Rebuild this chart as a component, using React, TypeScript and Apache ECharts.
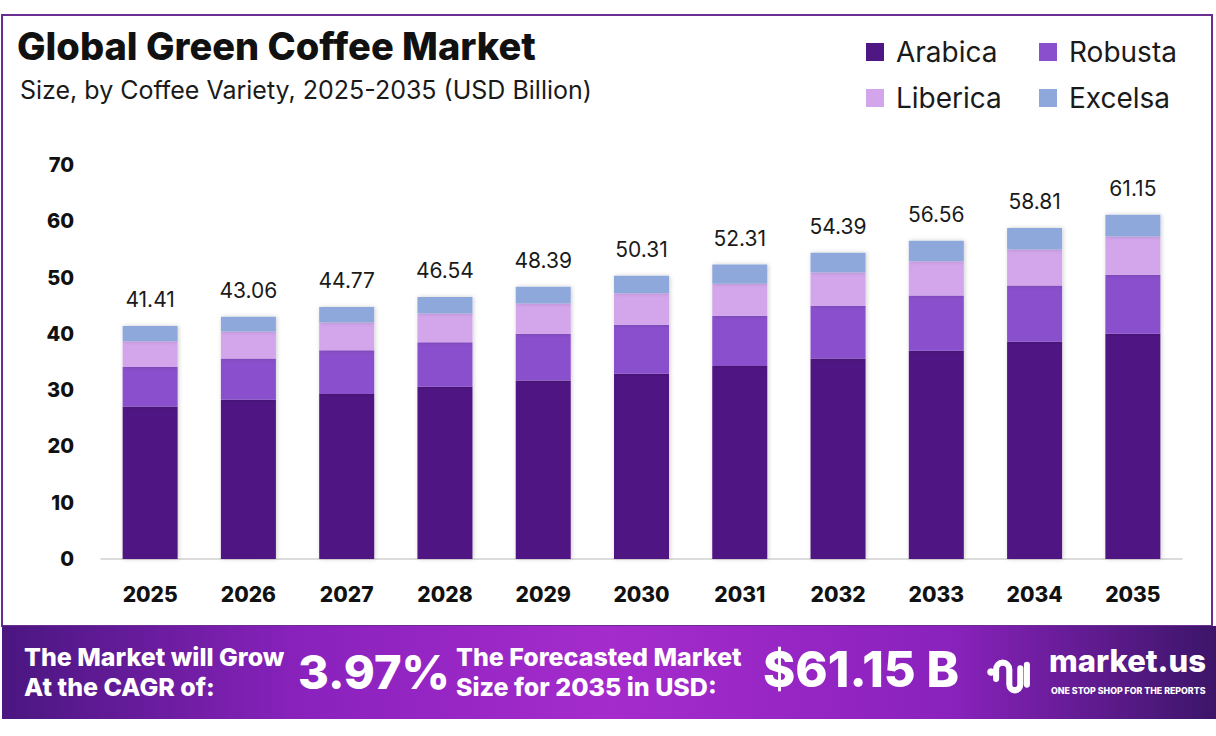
import React, { useEffect, useRef } from 'react';
import * as echarts from 'echarts';

// Market size by coffee variety, USD billion
const years = ['2025', '2026', '2027', '2028', '2029', '2030', '2031', '2032', '2033', '2034', '2035'];
const arabica = [27.1, 28.3, 29.3, 30.6, 31.7, 32.9, 34.3, 35.6, 37.0, 38.6, 40.0];
const robusta = [7.0, 7.3, 7.8, 7.9, 8.3, 8.7, 8.9, 9.4, 9.8, 10.0, 10.5];
const liberica = [4.6, 4.8, 4.9, 5.1, 5.4, 5.6, 5.7, 5.9, 6.1, 6.4, 6.8];
const excelsa = [2.71, 2.66, 2.77, 2.94, 2.99, 3.11, 3.41, 3.49, 3.66, 3.81, 3.85];
const totals = ['41.41', '43.06', '44.77', '46.54', '48.39', '50.31', '52.31', '54.39', '56.56', '58.81', '61.15'];

const COLORS = {
  Arabica: '#4f1783',
  Robusta: '#8a4fcc',
  Liberica: '#d3a6ec',
  Excelsa: '#8fa8dc',
};

const FONT = 'Inter, "Open Sans", sans-serif';

// market.us glyph, roughly
const LOGO_D = 'M11 25 V17 A6 6 0 0 1 23 17 V30 A5 5 0 0 0 33 30 V16 M39 13 V30';
echarts.graphic.registerShape('logo', echarts.graphic.extendPath(LOGO_D, {}) as any);

export default function App() {
  const chartRef = useRef<HTMLDivElement>(null);

  useEffect(() => {
    if (!chartRef.current) return;
    const chart = echarts.init(chartRef.current, undefined, { renderer: 'svg' });

    const barSeries = (name: keyof typeof COLORS, data: number[], withLabel = false) => ({
      name,
      type: 'bar',
      stack: 'total',
      data,
      barWidth: 55,
      itemStyle: {
        color: COLORS[name],
        shadowBlur: 4,
        shadowColor: 'rgba(0,0,0,0.2)',
        shadowOffsetX: 1,
      },
      label: withLabel
        ? {
            show: true,
            position: 'top',
            distance: 16,
            color: '#1a1a1a',
            fontSize: 21,
            fontFamily: FONT,
            formatter: (p: any) => totals[p.dataIndex],
          }
        : { show: false },
    });

    const legendItem = (name: string, left: number, top: number) => ({
      left,
      top,
      padding: 0,
      data: [name],
      icon: 'rect',
      itemWidth: 18,
      itemHeight: 18,
      textStyle: { fontSize: 28, color: '#1a1a1a', fontFamily: FONT, padding: [0, 0, 0, 7] },
    });

    chart.setOption({
      animation: false,
      backgroundColor: '#ffffff',
      legend: [
        legendItem('Arabica', 866, 38),
        legendItem('Robusta', 1039, 38),
        legendItem('Liberica', 866, 84),
        legendItem('Excelsa', 1039, 84),
      ],
      grid: { left: 101, right: 34, top: 165, bottom: 177, containLabel: false },
      xAxis: {
        type: 'category',
        data: years,
        axisLine: { lineStyle: { color: '#d0d0d0', width: 1.5 } },
        axisTick: { show: false },
        axisLabel: { color: '#111', fontSize: 21, fontWeight: 800, fontFamily: FONT, margin: 25 },
      },
      yAxis: {
        type: 'value',
        min: 0,
        max: 70,
        interval: 10,
        axisLine: { show: false },
        axisTick: { show: false },
        splitLine: { show: false },
        axisLabel: { color: '#111', fontSize: 20, fontWeight: 800, fontFamily: FONT, margin: 27 },
      },
      series: [
        barSeries('Arabica', arabica),
        barSeries('Robusta', robusta),
        barSeries('Liberica', liberica),
        barSeries('Excelsa', excelsa, true),
      ],
      graphic: [
        {
          type: 'rect',
          silent: true,
          z: -1,
          shape: { x: 2, y: 15, width: 1210, height: 611 },
          style: { fill: 'none', stroke: '#6b2d8f', lineWidth: 2 },
        },
        {
          type: 'text',
          left: 17,
          top: 27,
          style: { text: 'Global Green Coffee Market', fontSize: 38, fontWeight: 800, fill: '#111', fontFamily: FONT },
        },
        {
          type: 'text',
          left: 20,
          top: 77,
          style: { text: 'Size, by Coffee Variety, 2025-2035 (USD Billion)', fontSize: 25, fill: '#1a1a1a', fontFamily: FONT },
        },
        {
          type: 'rect',
          silent: true,
          shape: { x: 2, y: 626, width: 1214, height: 93 },
          style: {
            fill: {
              type: 'linear',
              x: 0,
              y: 0,
              x2: 1,
              y2: 0,
              colorStops: [
                { offset: 0, color: '#4a1680' },
                { offset: 0.25, color: '#8a22bd' },
                { offset: 0.5, color: '#a52bcc' },
                { offset: 0.78, color: '#8a22bd' },
                { offset: 1, color: '#3c1569' },
              ],
            },
          },
        },
        {
          type: 'text',
          x: 24,
          y: 642,
          style: { text: 'The Market will Grow\nAt the CAGR of:', fontSize: 25, lineHeight: 30, fontWeight: 800, fill: '#fff', fontFamily: FONT },
        },
        {
          type: 'text',
          x: 298,
          y: 648,
          style: {
            text: '3.97%',
            fontSize: 47,
            fontWeight: 800,
            fill: '#fff',
            fontFamily: FONT,
            shadowBlur: 6,
            shadowColor: 'rgba(0,0,0,0.35)',
            shadowOffsetX: 3,
            shadowOffsetY: 3,
          },
        },
        {
          type: 'text',
          x: 456,
          y: 642,
          style: { text: 'The Forecasted Market\nSize for 2035 in USD:', fontSize: 25, lineHeight: 30, fontWeight: 800, fill: '#fff', fontFamily: FONT },
        },
        {
          type: 'text',
          x: 763,
          y: 645,
          style: {
            text: '$61.15 B',
            fontSize: 49,
            fontWeight: 800,
            fill: '#fff',
            fontFamily: FONT,
            shadowBlur: 6,
            shadowColor: 'rgba(0,0,0,0.35)',
            shadowOffsetX: 3,
            shadowOffsetY: 3,
          },
        },
        {
          type: 'circle',
          shape: { cx: 991, cy: 672, r: 3.8 },
          style: { fill: '#fff' },
        },
        {
          type: 'logo',
          x: 984,
          y: 650,
          scaleX: 1.1,
          scaleY: 1.15,
          style: { fill: 'none', stroke: '#fff', lineWidth: 5.5, lineCap: 'round' },
        },
        {
          type: 'text',
          x: 1049,
          y: 645,
          style: { text: 'market.us', fontSize: 31, fontWeight: 800, fill: '#fff', fontFamily: FONT },
        },
        {
          type: 'text',
          x: 1051,
          y: 686,
          style: { text: 'ONE STOP SHOP FOR THE REPORTS', fontSize: 8.8, fontWeight: 800, fill: '#fff', fontFamily: FONT },
        },
      ],
    } as any);

    return () => chart.dispose();
  }, []);

  return (
    <div
      ref={chartRef}
      style={{ position: 'fixed', left: 0, top: 0, width: 1216, height: 736 }}
    />
  );
}
